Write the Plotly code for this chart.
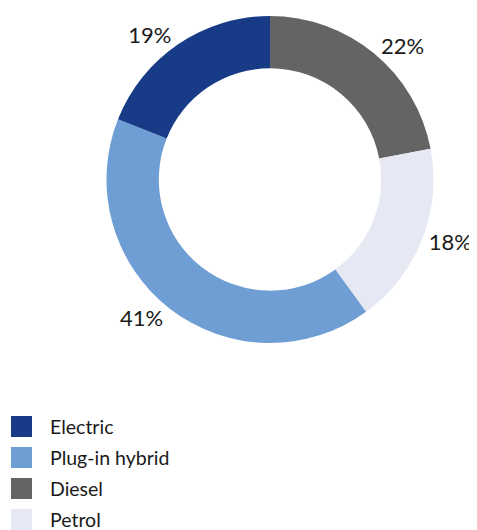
import plotly.graph_objects as go

# slice order, clockwise from 12 o'clock
labels = ["Diesel", "Petrol", "Plug-in hybrid", "Electric"]
shares = [22, 18, 41, 19]
colors = ["#646464", "#E6E9F3", "#6E9ED4", "#173B87"]

# legend order as shown in the reference
legend_labels = ["Electric", "Plug-in hybrid", "Diesel", "Petrol"]
legend_colors = ["#173B87", "#6E9ED4", "#646464", "#E6E9F3"]

W, H = 477, 530
OFF = 8  # page body margin the figure sits inside

fig = go.Figure()

fig.add_trace(go.Pie(
    labels=labels,
    values=shares,
    marker=dict(colors=colors, line=dict(width=0)),
    hole=0.68,
    sort=False,
    direction="clockwise",
    rotation=0,
    texttemplate="%{value}%",
    textposition="outside",
    textfont=dict(size=22, color="#1a1a1a"),
    showlegend=False,
    domain=dict(x=[0.2065, 0.892], y=[0.368, 0.985]),
))

# legend drawn as swatches + labels (fixed order, below the donut)
row_top, row_step, sw = 416 - OFF, 31, 21
shapes, annotations = [], []
for i, (name, col) in enumerate(zip(legend_labels, legend_colors)):
    top = row_top + i * row_step
    shapes.append(dict(
        type="rect", xref="paper", yref="paper",
        x0=(11 - OFF) / W, x1=(11 - OFF + sw) / W,
        y0=1 - (top + sw) / H, y1=1 - top / H,
        fillcolor=col, line=dict(width=0),
    ))
    annotations.append(dict(
        text=name, xref="paper", yref="paper",
        x=(48 - OFF) / W, y=1 - (top + sw / 2) / H,
        xanchor="left", yanchor="middle", showarrow=False,
        font=dict(size=19.5, color="#1a1a1a"),
    ))

fig.update_layout(
    width=W,
    height=H,
    paper_bgcolor="white",
    plot_bgcolor="white",
    margin=dict(l=0, r=0, t=0, b=0),
    font=dict(family="Lato", size=20, color="#1a1a1a"),
    shapes=shapes,
    annotations=annotations,
)

fig.write_html("out.html")
